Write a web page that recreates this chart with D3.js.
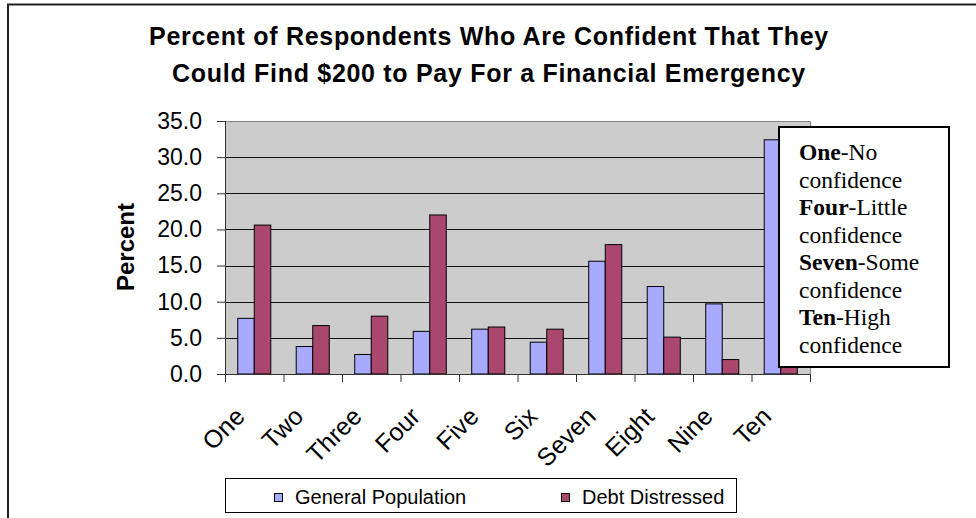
<!DOCTYPE html>
<head>
  <meta charset="utf-8">
  <script type="text/javascript" src="https://cdn.jsdelivr.net/npm/d3@7"></script>
  <style>
    body { margin: 0; background: #fff; }
    text { font-family: Arial, "Liberation Sans", sans-serif; }
  </style>
</head>
<body>
  <script>

  var categories = ["One", "Two", "Three", "Four", "Five", "Six", "Seven", "Eight", "Nine", "Ten"]
  var seriesNames = ["General Population", "Debt Distressed"]
  var generalPop = [7.7, 3.8, 2.7, 5.9, 6.2, 4.4, 15.6, 12.1, 9.7, 32.4]
  var debtDistressed = [20.6, 6.7, 8.0, 22.0, 6.5, 6.2, 17.9, 5.1, 2.0, 5.0]
  var yTicks = [0, 5, 10, 15, 20, 25, 30, 35]
  var titleLines = ["Percent of Respondents Who Are Confident That They",
                    "Could Find $200 to Pay For a Financial Emergency"]
  var noteLines = [["One", "-No"], ["", "confidence"], ["Four", "-Little"], ["", "confidence"],
                   ["Seven", "-Some"], ["", "confidence"], ["Ten", "-High"], ["", "confidence"]]
  var colors = ["#a8aaff", "#a9476f"]

  var width = 976, height = 518
  var plot = {left: 225, right: 810, top: 121, bottom: 374}

  var svg = d3.select("body")
              .append("svg")
              .attr("width", width)
              .attr("height", height)

  // outer frame, runs off the right and bottom edge
  svg.append("rect")
     .attr("x", 8).attr("y", 4.5)
     .attr("width", 1000).attr("height", 600)
     .attr("fill", "none")
     .attr("stroke", "#222")
     .attr("stroke-width", 2)

  svg.selectAll(".title")
     .data(titleLines)
     .enter()
     .append("text")
     .attr("class", "title")
     .attr("x", 489)
     .attr("y", function(d, i) { return 45 + i * 37 })
     .attr("text-anchor", "middle")
     .attr("font-weight", "bold")
     .attr("font-size", "25px")
     .attr("letter-spacing", "0.7px")
     .text(function(d) { return d })

  var x = d3.scaleBand()
            .domain(categories)
            .range([plot.left, plot.right])
            .padding(0)
  var xs = d3.scaleBand()
             .domain(seriesNames)
             .range([0, x.bandwidth()])
             .paddingInner(0)
             .paddingOuter(0.77)
  var xEdge = d3.scaleLinear()
                .domain([0, categories.length])
                .range([plot.left, plot.right])
  var y = d3.scaleLinear()
            .domain([0, 35])
            .range([plot.bottom, plot.top])

  svg.append("rect")
     .attr("x", plot.left).attr("y", plot.top)
     .attr("width", plot.right - plot.left)
     .attr("height", plot.bottom - plot.top)
     .attr("fill", "#cccccc")

  svg.selectAll(".grid")
     .data(yTicks.filter(function(d) { return d > 0 && d < 35 }))
     .enter()
     .append("line")
     .attr("class", "grid")
     .attr("x1", plot.left).attr("x2", plot.right)
     .attr("y1", function(d) { return Math.round(y(d)) + 0.5 })
     .attr("y2", function(d) { return Math.round(y(d)) + 0.5 })
     .attr("stroke", "#111")

  // top and right border of the plot area
  svg.append("path")
     .attr("d", "M" + plot.left + "," + (plot.top + 0.5) + "H" + (plot.right + 0.5) + "V" + plot.bottom)
     .attr("fill", "none")
     .attr("stroke", "#808080")

  var rows = categories.map(function(c, i) {
    return {cat: c, values: [generalPop[i], debtDistressed[i]]}
  })

  var groups = svg.selectAll(".group")
     .data(rows)
     .enter()
     .append("g")
     .attr("class", "group")
     .attr("transform", function(d) { return "translate(" + x(d.cat) + ",0)" })

  groups.selectAll("rect")
     .data(function(d) { return d.values.map(function(v, j) { return {name: seriesNames[j], v: v, j: j} }) })
     .enter()
     .append("rect")
     .attr("x", function(d) { return xs(d.name) })
     .attr("y", function(d) { return y(d.v) })
     .attr("width", xs.bandwidth())
     .attr("height", function(d) { return y(0) - y(d.v) })
     .attr("fill", function(d) { return colors[d.j] })
     .attr("stroke", "#000")
     .attr("stroke-width", 1)

  var yAxis = svg.append("g")
     .attr("transform", "translate(" + plot.left + ",0)")
     .call(d3.axisLeft(y).tickValues(yTicks).tickFormat(d3.format(".1f")).tickSize(8).tickPadding(15))
  yAxis.select(".domain").attr("stroke", "#333")
  yAxis.selectAll("text").attr("font-size", "23px").attr("fill", "#000")
       .attr("font-family", "Arial, 'Liberation Sans', sans-serif")
  yAxis.selectAll("line").attr("stroke", "#333")

  var xAxis = svg.append("g")
     .attr("transform", "translate(0," + plot.bottom + ")")
     .call(d3.axisBottom(xEdge).tickValues(d3.range(categories.length + 1)).tickFormat("").tickSize(8).tickSizeOuter(0))
  xAxis.select(".domain").attr("stroke", "#333")
  xAxis.selectAll("line").attr("stroke", "#333")

  svg.selectAll(".xlab")
     .data(categories)
     .enter()
     .append("text")
     .attr("class", "xlab")
     .attr("text-anchor", "end")
     .attr("font-size", "25px")
     .attr("transform", function(d) {
       return "translate(" + (x(d) + x.bandwidth() / 2 - 8) + ",418) rotate(-45)"
     })
     .text(function(d) { return d })

  svg.append("text")
     .attr("transform", "translate(134,247) rotate(-90)")
     .attr("text-anchor", "middle")
     .attr("font-weight", "bold")
     .attr("font-size", "24px")
     .text("Percent")

  // note box over the last category
  svg.append("rect")
     .attr("x", 779).attr("y", 127)
     .attr("width", 170).attr("height", 240)
     .attr("fill", "#fff")
     .attr("stroke", "#000")
     .attr("stroke-width", 2)

  var note = svg.selectAll(".note")
     .data(noteLines)
     .enter()
     .append("text")
     .attr("class", "note")
     .attr("x", 799)
     .attr("y", function(d, i) { return 160 + i * 27.5 })
     .style("font-family", "'Liberation Serif', 'Times New Roman', serif")
     .attr("font-size", "23.5px")
  note.append("tspan").attr("font-weight", "bold").text(function(d) { return d[0] })
  note.append("tspan").text(function(d) { return d[1] })

  // legend
  svg.append("rect")
     .attr("x", 225.5).attr("y", 478.5)
     .attr("width", 511).attr("height", 34)
     .attr("fill", "#fff")
     .attr("stroke", "#000")

  var legendX = [274, 561]
  var legend = svg.selectAll(".legend")
     .data(seriesNames)
     .enter()
     .append("g")
     .attr("class", "legend")
     .attr("transform", function(d, i) { return "translate(" + legendX[i] + ",0)" })
  legend.append("rect")
     .attr("x", 0.5).attr("y", 493.5)
     .attr("width", 8).attr("height", 8)
     .attr("fill", function(d, i) { return colors[i] })
     .attr("stroke", "#000")
  legend.append("text")
     .attr("x", 21)
     .attr("y", 504)
     .attr("font-size", "20px")
     .text(function(d) { return d })

  </script>
</body>
